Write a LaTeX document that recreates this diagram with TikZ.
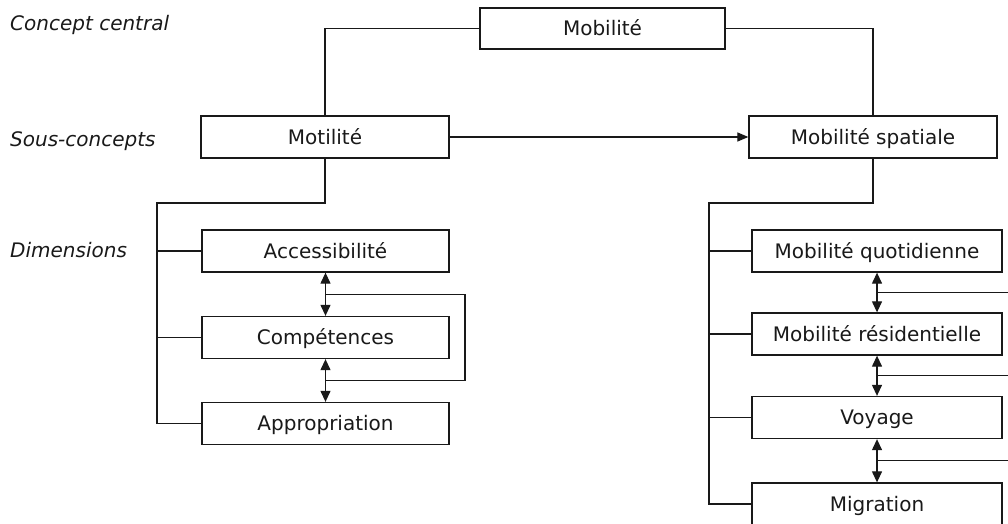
\documentclass[tikz,border=0pt]{standalone}
\usepackage{fontspec}
\setmainfont{DejaVu Sans}
\usetikzlibrary{arrows.meta,calc}
\begin{document}
\begin{tikzpicture}[x=1pt,y=-1pt,
  box/.style={draw=black!90, line width=1.3pt, fill=white, minimum width=248pt, minimum height=42pt,
    inner sep=0pt, text height=14.6pt, text depth=0pt, font=\fontsize{20}{24}\selectfont, text=black!90},
  conn/.style={draw=black!90, line width=1.2pt},
  arr/.style={conn, -{Triangle[length=11pt,width=9pt]}},
  darr/.style={conn, {Triangle[length=11pt,width=10pt]}-{Triangle[length=11pt,width=10pt]}},
  lvl/.style={font=\fontsize{20}{24}\selectfont\itshape, anchor=base west, inner sep=0pt, text=black!90}]
\useasboundingbox (0,0) rectangle (1008,524);
\clip (0,0) rectangle (1008,524);

% level labels
\node[lvl] (lc) at (10,31) {Concept central};
\node[lvl] (ls) at (10,146) {Sous-concepts};
\node[lvl] (ld) at (10,257) {Dimensions};

% boxes
\node[box, minimum width=245pt, minimum height=41pt] (mob) at (602.5,28.5) {Mobilité};
\node[box] (mot) at (325,137) {Motilité};
\node[box] (msp) at (873,137) {Mobilité spatiale};
\node[box, minimum width=247pt] (acc) at (325.5,251) {Accessibilité};
\node[box, minimum width=247pt] (com) at (325.5,337.5) {Compétences};
\node[box, minimum width=247pt] (app) at (325.5,423.5) {Appropriation};
\node[box, minimum width=250pt] (mq) at (877,251) {Mobilité quotidienne};
\node[box, minimum width=250pt] (mr) at (877,334) {Mobilité résidentielle};
\node[box, minimum width=250pt] (voy) at (877,417.5) {Voyage};
\node[box, minimum width=250pt] (mig) at (877,504) {Migration};

% top connectors
\draw[conn] (mob.west) -| (mot.north);
\draw[conn] (mob.east) -| (msp.north);
\draw[arr] (mot.east) -- (msp.west);

% left tree
\coordinate (lbus) at (157,203);
\draw[conn] (mot.south) |- (lbus) |- (app.west);
\draw[conn] (lbus |- acc.west) -- (acc.west);
\draw[conn] (lbus |- com.west) -- (com.west);
\draw[darr] (acc.south) -- (com.north);
\draw[darr] (com.south) -- (app.north);
\coordinate (l1) at ($(acc.south)!0.5!(com.north)$);
\coordinate (l2) at ($(com.south)!0.5!(app.north)$);
\coordinate (lr) at (465,0);
\draw[conn] (l1) -- (lr |- l1) -- (lr |- l2) -- (l2);

% right tree
\coordinate (rbus) at (709,203);
\draw[conn] (msp.south) |- (rbus) |- (mig.west);
\draw[conn] (rbus |- mq.west) -- (mq.west);
\draw[conn] (rbus |- mr.west) -- (mr.west);
\draw[conn] (rbus |- voy.west) -- (voy.west);
\draw[darr] (mq.south) -- (mr.north);
\draw[darr] (mr.south) -- (voy.north);
\draw[darr] (voy.south) -- (mig.north);
\coordinate (r1) at ($(mq.south)!0.5!(mr.north)$);
\coordinate (r2) at ($(mr.south)!0.5!(voy.north)$);
\coordinate (r3) at ($(voy.south)!0.5!(mig.north)$);
\coordinate (re) at (1020,0);
\draw[conn] (r1) -- (re |- r1);
\draw[conn] (r2) -- (re |- r2);
\draw[conn] (r3) -- (re |- r3);
\end{tikzpicture}
\end{document}
